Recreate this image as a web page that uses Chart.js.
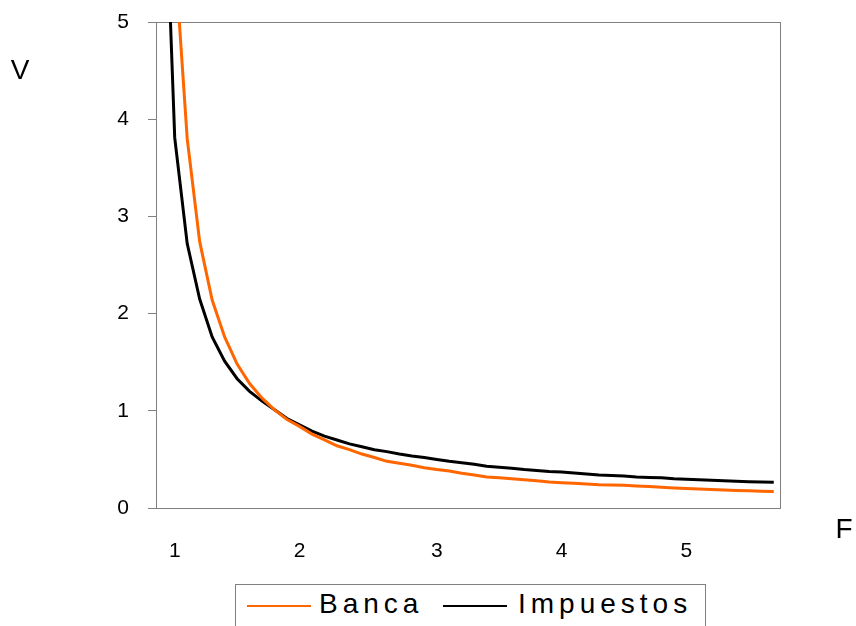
<!DOCTYPE html>
<html>
<head>
<meta charset="utf-8">
<script src="https://cdn.jsdelivr.net/npm/chart.js@4.4.0/dist/chart.umd.min.js"></script>
<style>
    html, body { margin: 0; padding: 0; background: #fff; overflow: hidden; }
    #wrap { position: relative; width: 856px; height: 626px; }
    #legend {
        position: absolute; left: 235px; top: 584px; width: 469px; height: 60px;
        border: 1px solid #808080; background: #fff;
        font-family: 'Liberation Sans', Arial, sans-serif; font-size: 28px; color: #000;
    }
    #legend .swatch { position: absolute; top: 20px; width: 64px; height: 2px; }
    #legend .txt { position: absolute; top: 5px; line-height: 28px; letter-spacing: 5px; white-space: nowrap; }
</style>
</head>
<body>
<div id="wrap">
    <canvas id="chart" width="856" height="626"></canvas>
    <div id="legend">
        <div class="swatch" style="left:11px; background:#ff6600;"></div>
        <div class="txt" style="left:83px;">Banca</div>
        <div class="swatch" style="left:207px; background:#000;"></div>
        <div class="txt" style="left:282px;">Impuestos</div>
    </div>
</div>
<script>
document.addEventListener('DOMContentLoaded', function() {

    // categorias del eje F (solo algunas llevan etiqueta)
    const fLabels = [
        '', '1', '', '', '', '', '', '', '', '',
        '', '2', '', '', '', '', '', '', '', '',
        '', '', '3', '', '', '', '', '', '', '',
        '', '', '4', '', '', '', '', '', '', '',
        '', '', '5', '', '', '', '', '', '', ''
    ];

    const banca = [
        10.0, 5.7, 3.80, 2.74, 2.14, 1.76, 1.48, 1.28, 1.13, 1.01,
        0.91, 0.84, 0.76, 0.70, 0.64, 0.60, 0.555, 0.52, 0.48, 0.46,
        0.44, 0.415, 0.395, 0.38, 0.357, 0.34, 0.32, 0.31, 0.30, 0.29,
        0.28, 0.268, 0.26, 0.254, 0.247, 0.24, 0.237, 0.233, 0.226, 0.22,
        0.214, 0.207, 0.20, 0.195, 0.19, 0.185, 0.181, 0.177, 0.173, 0.169
    ];

    const impuestos = [
        7.3, 3.81, 2.72, 2.15, 1.76, 1.51, 1.33, 1.20, 1.10, 1.01,
        0.92, 0.855, 0.79, 0.74, 0.70, 0.66, 0.63, 0.60, 0.58, 0.555,
        0.535, 0.52, 0.50, 0.48, 0.465, 0.45, 0.43, 0.42, 0.41, 0.395,
        0.385, 0.375, 0.37, 0.36, 0.35, 0.34, 0.335, 0.33, 0.32, 0.315,
        0.31, 0.30, 0.297, 0.29, 0.285, 0.28, 0.275, 0.27, 0.267, 0.264
    ];

    const yTicks = [0, 1, 2, 3, 4, 5];

    const FONT = "'Liberation Sans', Arial, sans-serif";

    // marco gris del area de trazado + titulos V / F
    const framePlugin = {
        id: 'frame',
        beforeDatasetsDraw(chart) {
            const a = chart.chartArea;
            const ctx = chart.ctx;
            ctx.save();
            ctx.strokeStyle = '#808080';
            ctx.lineWidth = 1;
            ctx.strokeRect(a.left + 0.5, a.top + 0.5, a.right - a.left, a.bottom - a.top);
            ctx.restore();
        },
        afterDraw(chart) {
            const ctx = chart.ctx;
            ctx.save();
            ctx.fillStyle = '#000';
            ctx.font = '28px ' + FONT;
            ctx.textAlign = 'center';
            ctx.textBaseline = 'middle';
            ctx.fillText('V', 20, 71);
            ctx.fillText('F', 844, 530);
            ctx.restore();
        }
    };

    new Chart(document.getElementById('chart'), {
        type: 'line',
        data: {
            labels: fLabels,
            datasets: [
                {
                    label: 'Banca',
                    data: banca,
                    borderColor: '#ff6600',
                    borderWidth: 3,
                    pointRadius: 0,
                    tension: 0,
                    fill: false
                },
                {
                    label: 'Impuestos',
                    data: impuestos,
                    borderColor: '#000000',
                    borderWidth: 3,
                    pointRadius: 0,
                    tension: 0,
                    fill: false
                }
            ]
        },
        options: {
            responsive: false,
            animation: false,
            layout: { padding: { left: 0, right: 76, top: 22, bottom: 0 } },
            plugins: {
                legend: { display: false },
                tooltip: { enabled: false }
            },
            scales: {
                x: {
                    type: 'category',
                    offset: true,
                    grid: { display: false, drawTicks: false },
                    border: { display: true, color: '#808080', width: 1 },
                    ticks: {
                        autoSkip: false,
                        maxRotation: 0,
                        padding: 31,
                        color: '#000',
                        font: { family: FONT, size: 21 }
                    },
                    afterFit: function(scale) {
                        scale.height = 118;
                        scale.paddingLeft = 0;
                        scale.paddingRight = 0;
                    }
                },
                y: {
                    min: 0,
                    max: 5,
                    afterBuildTicks: function(scale) {
                        scale.ticks = yTicks.map(v => ({ value: v }));
                    },
                    grid: {
                        drawOnChartArea: false,
                        drawTicks: true,
                        tickLength: 8,
                        color: '#808080'
                    },
                    border: { display: true, color: '#000', width: 1 },
                    ticks: {
                        padding: 19,
                        color: '#000',
                        font: { family: FONT, size: 21 }
                    },
                    afterFit: function(scale) {
                        scale.width = 156;
                        scale.paddingTop = 0;
                        scale.paddingBottom = 0;
                    }
                }
            }
        },
        plugins: [framePlugin]
    });

});
</script>
</body>
</html>
